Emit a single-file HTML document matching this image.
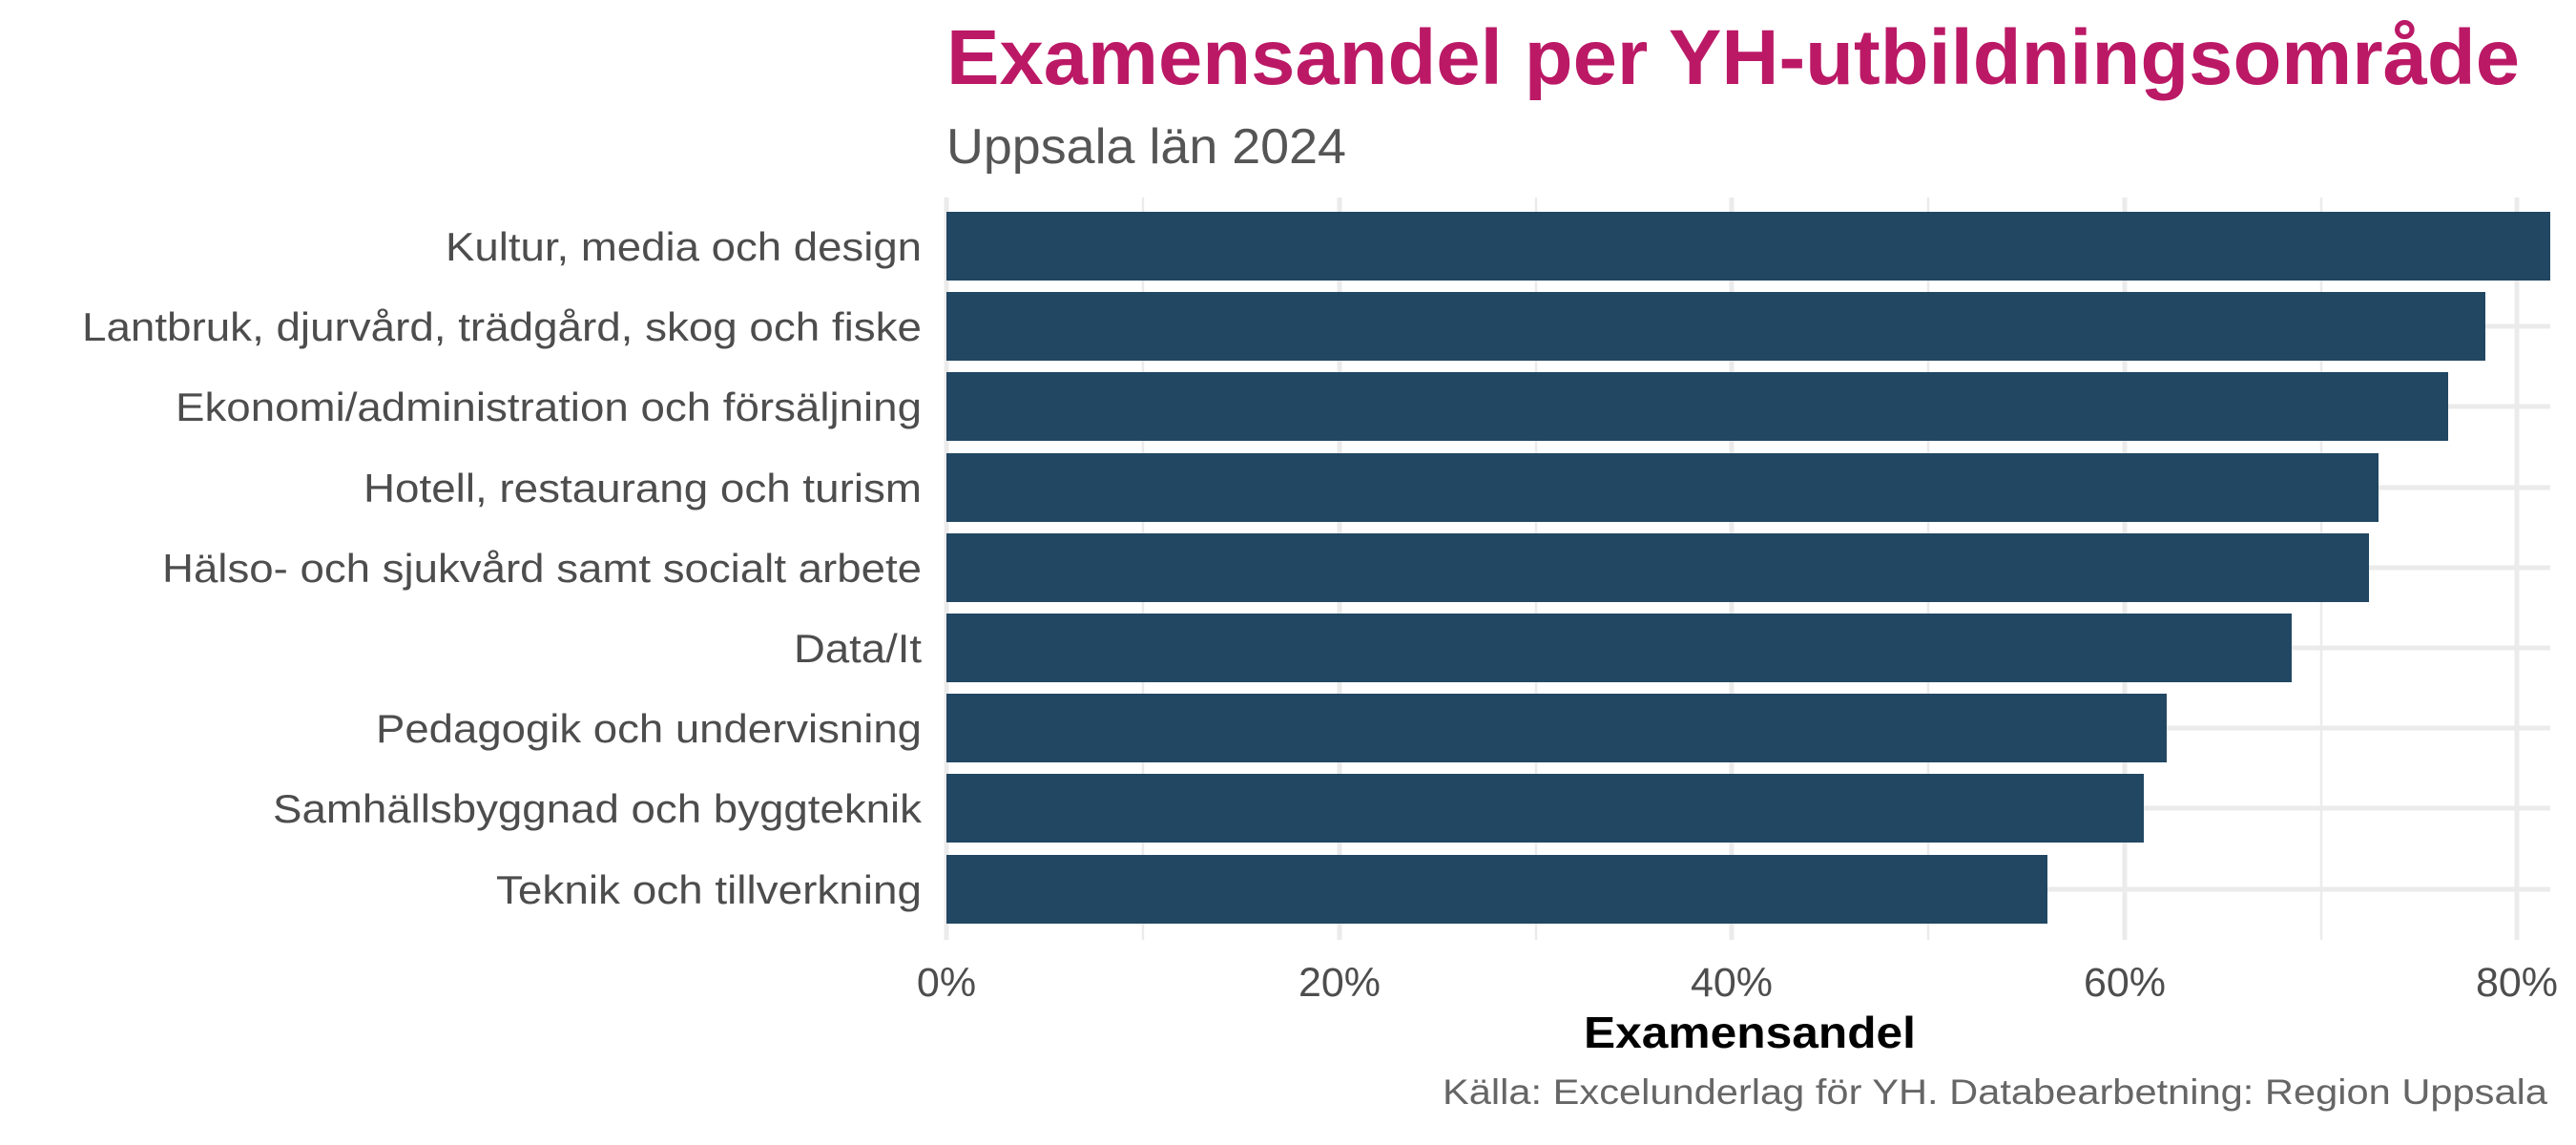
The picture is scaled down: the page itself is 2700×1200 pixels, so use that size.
<!DOCTYPE html>
<html><head><meta charset="utf-8"><style>html,body{margin:0;padding:0;background:#fff}svg{display:block}</style></head>
<body>
<svg width="2700" height="1200" viewBox="0 0 2700 1200" xmlns="http://www.w3.org/2000/svg" font-family="Liberation Sans, Arial, sans-serif">
<rect width="2700" height="1200" fill="#fff"/>
<g stroke="#ebebeb">
<g stroke-width="2.5">
<line x1="1198" y1="207" x2="1198" y2="985"/><line x1="1610" y1="207" x2="1610" y2="985"/>
<line x1="2021" y1="207" x2="2021" y2="985"/><line x1="2433" y1="207" x2="2433" y2="985"/>
</g>
<g stroke-width="5">
<line x1="992" y1="207" x2="992" y2="985"/><line x1="1404" y1="207" x2="1404" y2="985"/>
<line x1="1815" y1="207" x2="1815" y2="985"/><line x1="2227" y1="207" x2="2227" y2="985"/>
<line x1="2638" y1="207" x2="2638" y2="985"/>
<line x1="992" y1="258" x2="2673" y2="258"/><line x1="992" y1="342" x2="2673" y2="342"/>
<line x1="992" y1="426" x2="2673" y2="426"/><line x1="992" y1="511" x2="2673" y2="511"/>
<line x1="992" y1="595" x2="2673" y2="595"/><line x1="992" y1="679" x2="2673" y2="679"/>
<line x1="992" y1="763" x2="2673" y2="763"/><line x1="992" y1="847" x2="2673" y2="847"/>
<line x1="992" y1="932" x2="2673" y2="932"/>
</g></g>
<g fill="#214763">
<rect x="992" y="222" width="1681" height="72"/>
<rect x="992" y="306" width="1613" height="72"/>
<rect x="992" y="390" width="1574" height="72"/>
<rect x="992" y="475" width="1501" height="72"/>
<rect x="992" y="559" width="1491" height="72"/>
<rect x="992" y="643" width="1410" height="72"/>
<rect x="992" y="727" width="1279" height="72"/>
<rect x="992" y="811" width="1255" height="72"/>
<rect x="992" y="896" width="1154" height="72"/>
</g>
<g fill="#4d4d4d" font-size="42" text-anchor="end">
<text x="966" y="273" textLength="499" lengthAdjust="spacingAndGlyphs">Kultur, media och design</text>
<text x="966" y="357" textLength="880" lengthAdjust="spacingAndGlyphs">Lantbruk, djurvård, trädgård, skog och fiske</text>
<text x="966" y="441" textLength="782" lengthAdjust="spacingAndGlyphs">Ekonomi/administration och försäljning</text>
<text x="966" y="526" textLength="585" lengthAdjust="spacingAndGlyphs">Hotell, restaurang och turism</text>
<text x="966" y="610" textLength="796" lengthAdjust="spacingAndGlyphs">Hälso- och sjukvård samt socialt arbete</text>
<text x="966" y="694" textLength="134" lengthAdjust="spacingAndGlyphs">Data/It</text>
<text x="966" y="778" textLength="572" lengthAdjust="spacingAndGlyphs">Pedagogik och undervisning</text>
<text x="966" y="862" textLength="680" lengthAdjust="spacingAndGlyphs">Samhällsbyggnad och byggteknik</text>
<text x="966" y="947" textLength="446" lengthAdjust="spacingAndGlyphs">Teknik och tillverkning</text>
</g>
<g fill="#4d4d4d" font-size="43" text-anchor="middle">
<text x="992" y="1044">0%</text><text x="1404" y="1044">20%</text><text x="1815" y="1044">40%</text>
<text x="2227" y="1044">60%</text><text x="2638" y="1044">80%</text>
</g>
<text x="1834" y="1098" text-anchor="middle" font-size="46" font-weight="bold" fill="#000" textLength="348" lengthAdjust="spacingAndGlyphs">Examensandel</text>
<text x="2670" y="1157" text-anchor="end" font-size="37" fill="#666" textLength="1158" lengthAdjust="spacingAndGlyphs">Källa: Excelunderlag för YH. Databearbetning: Region Uppsala</text>
<text x="992" y="88" font-size="82" font-weight="bold" fill="#bb1966" textLength="1649" lengthAdjust="spacingAndGlyphs">Examensandel per YH-utbildningsområde</text>
<text x="992" y="171" font-size="52" fill="#555" textLength="419" lengthAdjust="spacingAndGlyphs">Uppsala län 2024</text>
</svg>
</body></html>
